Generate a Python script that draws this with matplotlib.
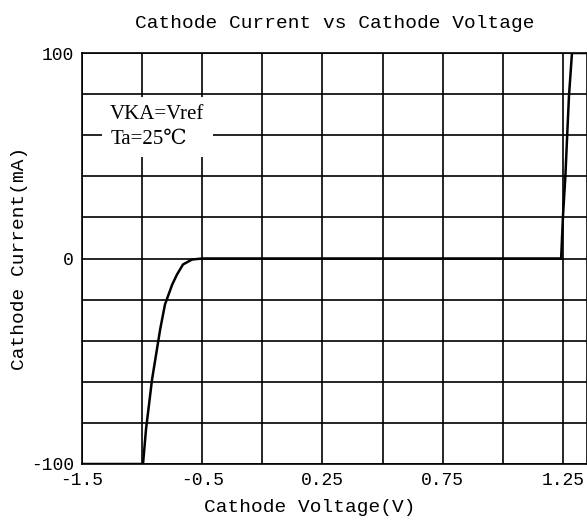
import numpy as np
import matplotlib
import matplotlib.pyplot as plt

matplotlib.rcParams['font.family'] = ['Liberation Mono', 'DejaVu Sans Mono']

# x in grid divisions (the datasheet labels are not linear), y in mA
x_ticks = [0, 2, 4, 6, 8]
x_labels = ['-1.5', '-0.5', '0.25', '0.75', '1.25']
y_ticks = [-100, 0, 100]
y_labels = ['-100', '0', '100']

curve_x = [0, 1.015, 1.065, 1.165, 1.30, 1.38, 1.50, 1.58, 1.68, 1.83, 2.0,
           7.97, 8.0, 8.04, 8.07, 8.10, 8.15, 8.4]
curve_y = [-100, -100, -83, -58.9, -34.5, -22.4, -12.7, -7.8, -2.9, -0.5, 0,
           0, 20.4, 39.8, 59.7, 79, 100, 100]

fig = plt.figure(figsize=(5.87, 5.24), dpi=100)
ax = fig.add_axes([82 / 587, 60 / 524, 505 / 587, 411 / 524])

for gx in np.arange(0, 8.5, 1):
    ax.axvline(gx, color='black', lw=1.2, zorder=1)
for gy in np.arange(-100, 101, 20):
    ax.axhline(gy, color='black', lw=1.2, zorder=1)

ax.plot(curve_x, curve_y, color='black', lw=1.8, zorder=3)

ax.set_xlim(0, 8.4)
ax.set_ylim(-100, 100)
ax.set_xticks(x_ticks)
ax.set_xticklabels(x_labels, fontsize=13)
ax.set_yticks(y_ticks)
ax.set_yticklabels(y_labels, fontsize=13)
ax.tick_params(length=0, pad=6)
for s in ax.spines.values():
    s.set_linewidth(1.2)

ax.text(0.47, 64, 'VKA=Vref\nTa=25℃', fontsize=15, family=['Liberation Serif', 'DejaVu Serif'],
        ha='left', va='center', linespacing=1.4, zorder=4,
        bbox=dict(facecolor='white', edgecolor='none', pad=6))

ax.set_title('Cathode Current vs Cathode Voltage', fontsize=14, pad=18)
ax.set_xlabel('Cathode Voltage(V)', fontsize=14, labelpad=4)
ax.xaxis.set_label_coords(0.45, -0.085)
ax.set_ylabel('Cathode Current(mA)', fontsize=14, labelpad=2)

fig.savefig('out.png', dpi=100)
